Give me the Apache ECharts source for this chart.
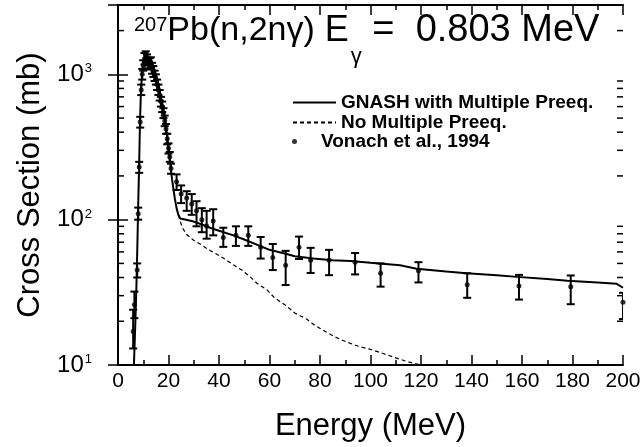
<!DOCTYPE html>
<html><head><meta charset="utf-8">
<script src="https://cdn.jsdelivr.net/npm/echarts@6/dist/echarts.min.js"></script>
<style>html,body{margin:0;padding:0;background:#fff}#c{width:644px;height:447px}</style>
</head><body><div id="c"></div>
<script>
// ---- data ----
const xMin = 0, xMax = 200, yMin = 10, yMax = 3000;
const xTickLabels = [0,20,40,60,80,100,120,140,160,180,200];
const yMinorTicks = [20,30,40,50,60,70,80,90,200,300,400,500,600,700,800,900,2000];

const gnashX = [6.3,6.8,7.3,7.7,8.0,8.4,8.7,9.1,9.5,10.0,10.6,11.3,12.0,12.6,13.3,14.3,15.3,16.2,17.0,17.8,18.6,19.3,19.9,20.4,20.9,21.4,21.9,22.5,23.2,23.9,24.6,27,30,33,36.4,40,45.7,50,56.2,60,66.8,70,77.4,85,92,100,111.7,118.3,130,138,150,158,170,178,190,197.5,200];
const gnashY = [10,18,35,70,126,250,465,780,980,1170,1300,1350,1340,1300,1240,1100,960,830,700,590,490,400,320,270,224,190,165,140,120,108,102,100,97,93,88,84,78,73,66,62,58,56,54,52.5,52,50.5,48.5,46,44,42.8,41.5,40.4,39,38,37,36.2,34];

const noMultX = [23.2,24.6,25.5,27.2,30,32.5,36,39,42,45.6,49,52.3,55,58.9,62,66.8,70,74.7,78,82.6,86,90.5,95,100,105,110,115,120];
const noMultY = [120,98,88,79,72,68,62,58,54,49,45,40.5,36.5,33,29,25.4,22.8,20.7,18.7,16.8,15.6,14.4,13.5,12.8,12.0,11.2,10.5,10];

const vonX  = [6.0,6.5,7.6,8.0,8.4,8.8,9.2,9.6,10.0,10.5,11.0,11.5,12.0,12.5,13.0,13.5,14.0,14.5,15.0,15.5,16.0,16.5,17.0,17.5,18.0,18.5,19.0,19.5,20.0,20.5,21.0,23.2,25.0,27.2,29.2,31.1,33.2,35.1,37.7,41.7,46.7,51.6,56.5,61.3,66.4,71.7,76.3,83.6,93.9,104,119,138.3,158.8,179.3,200];
const vonY  = [17,26,45,110,230,470,780,1000,1150,1280,1320,1260,1200,1180,1200,1100,1050,980,920,850,780,720,650,600,540,480,420,360,310,270,225,182,150,141,128,115,100,90.6,98,75.5,78,78,64.6,55,48.6,64.6,52.6,52.6,51,42.8,44.6,35.6,35,34.5,27];
const vonLo = [13,21,40,100,210,430,720,920,1060,1170,1210,1150,1100,1080,1100,1010,960,900,850,780,720,660,600,550,500,440,390,330,285,250,207,160,130,115,108,90,82,74,78,65,66,66,54,45,35.5,53.6,43,41.5,42,34.6,37,29,28.2,26.2,20.7];
const vonHi = [24,32,50,121,250,510,850,1090,1250,1400,1440,1370,1300,1290,1310,1200,1140,1060,1000,920,850,780,700,650,585,520,455,390,335,292,243,205,172,157,150,134,120,115,118,88,90,90,76,68,61,76.5,64,62,59,50,51,42.8,41.7,41.3,31.4];

const titleSup = '207';
const titleMain1 = 'Pb(n,2nγ)';
const titleE = 'E';
const titleSub = 'γ';
const titleMain2 = ' =  0.803 MeV';
const xName = 'Energy (MeV)';
const yName = 'Cross Section (mb)';
const sGnash = 'GNASH with Multiple Preeq.';
const sNoMult = 'No Multiple Preeq.';
const sVon = 'Vonach et al., 1994';

// ---- chart ----
const FONT = 'Liberation Sans, Arial, sans-serif';
const chart = echarts.init(document.getElementById('c'), null, {renderer: 'canvas'});
const zip = (a, b) => a.map((v, i) => [v, b[i]]);
const T = (extra) => Object.assign({fontFamily: FONT, fontWeight: 'normal', color: '#000', verticalAlign: 'top'}, extra);

const option = {
  animation: false,
  backgroundColor: '#fff',
  grid: {left: 118, right: 21, top: 5, bottom: 77, containLabel: false},
  title: {
    text: '{sup|' + titleSup + '}{m1|' + titleMain1 + '}{e|' + titleE + '}{sub|' + titleSub + '}{m2|' + titleMain2 + '}',
    left: 134, top: 13, padding: 0,
    textStyle: {
      fontWeight: 'normal',
      rich: {
        m1: T({fontSize: 34, lineHeight: 44, padding: [1, 0, 0, 0]}),
        m2: T({fontSize: 38, lineHeight: 44, padding: [-1, 0, 0, 0]}),
        e: T({fontSize: 36, lineHeight: 44, padding: [0, 0, 0, 10]}),
        sup: T({fontSize: 20, lineHeight: 22, padding: [2, 0, 0, 0]}),
        sub: T({fontSize: 22, lineHeight: 24, padding: [33, 0, 0, 2]})
      }
    }
  },
  legend: [{
    data: [sGnash, sNoMult],
    orient: 'vertical', left: 292, top: 93, padding: 0, itemGap: 1,
    itemWidth: 43, itemHeight: 16,
    itemStyle: {opacity: 0},
    textStyle: {fontFamily: FONT, fontSize: 19, fontWeight: 'bold', color: '#000'}
  }, {
    data: [sVon],
    orient: 'vertical', left: 292, top: 132, padding: 0,
    itemWidth: 43, itemHeight: 5,
    textStyle: {fontFamily: FONT, fontSize: 19, fontWeight: 'bold', color: '#000'}
  }],
  xAxis: [{
    type: 'value', min: xMin, max: xMax, interval: 20,
    name: xName, nameLocation: 'middle', nameGap: 46,
    nameTextStyle: {fontFamily: FONT, fontSize: 31, color: '#000'},
    axisLine: {show: true, lineStyle: {color: '#000', width: 2}},
    axisTick: {show: true, inside: true, length: 10, lineStyle: {color: '#000', width: 1.5}},
    minorTick: {show: true, splitNumber: 2, length: 5, lineStyle: {color: '#000', width: 1.5}},
    axisLabel: {fontFamily: FONT, fontSize: 21, color: '#000', margin: 6,
      formatter: v => xTickLabels.indexOf(v) >= 0 ? String(v) : ''},
    splitLine: {show: false}
  }, {
    type: 'value', min: xMin, max: xMax, interval: 20, position: 'top',
    axisLine: {show: true, lineStyle: {color: '#000', width: 2}},
    axisTick: {show: true, inside: true, length: 10, lineStyle: {color: '#000', width: 1.5}},
    minorTick: {show: true, splitNumber: 2, length: 5, lineStyle: {color: '#000', width: 1.5}},
    axisLabel: {show: false}, splitLine: {show: false}
  }],
  yAxis: [{
    type: 'log', logBase: 10, min: yMin, max: yMax,
    name: yName, nameLocation: 'middle', nameGap: 70, nameRotate: 90,
    nameTextStyle: {fontFamily: FONT, fontSize: 31, color: '#000'},
    axisLine: {show: true, lineStyle: {color: '#000', width: 2}},
    axisTick: {show: true, inside: true, length: 10, lineStyle: {color: '#000', width: 1.5}},
    axisLabel: {fontFamily: FONT, fontSize: 24, color: '#000', margin: 26, showMaxLabel: false,
      formatter: v => {
        const e = Math.round(Math.log10(v));
        if (Math.abs(Math.pow(10, e) - v) > 1e-6 * v) return '';
        return '10{s|' + e + '}';
      },
      rich: {s: {fontFamily: FONT, fontSize: 13, verticalAlign: 'top', lineHeight: 10, padding: [0,0,10,1]}}
    },
    splitLine: {show: false}
  }, {
    type: 'log', logBase: 10, min: yMin, max: yMax, position: 'right',
    axisLine: {show: true, lineStyle: {color: '#000', width: 2}},
    axisTick: {show: true, inside: true, length: 10, lineStyle: {color: '#000', width: 1.5}},
    axisLabel: {show: false}, splitLine: {show: false}
  }],
  series: [
    {
      name: 'minorY', type: 'custom', silent: true,
      data: yMinorTicks.map(v => [v]),
      renderItem: (params, api) => {
        const v = api.value(0);
        const pL = api.coord([xMin, v]);
        const pR = api.coord([xMax, v]);
        return {type: 'group', children: [
          {type: 'line', shape: {x1: pL[0], y1: pL[1], x2: pL[0] + 6, y2: pL[1]}, style: {stroke: '#000', lineWidth: 1.5}},
          {type: 'line', shape: {x1: pR[0] - 6, y1: pR[1], x2: pR[0], y2: pR[1]}, style: {stroke: '#000', lineWidth: 1.5}}
        ]};
      },
      encode: {y: 0}
    },
    {
      name: sNoMult, type: 'line', data: zip(noMultX, noMultY),
      showSymbol: false, symbol: 'none', color: '#000',
      lineStyle: {color: '#000', width: 1.2, type: [4, 3]}
    },
    {
      name: sGnash, type: 'line', data: zip(gnashX, gnashY),
      showSymbol: false, symbol: 'none', color: '#000',
      lineStyle: {color: '#000', width: 2}
    },
    {
      name: 'errors', type: 'custom', clip: true,
      data: vonX.map((x, i) => [x, vonLo[i], vonHi[i]]),
      renderItem: (params, api) => {
        const x = api.value(0);
        const lo = api.coord([x, api.value(1)]);
        const hi = api.coord([x, api.value(2)]);
        const w = 4;
        return {type: 'group', children: [
          {type: 'line', shape: {x1: lo[0], y1: lo[1], x2: hi[0], y2: hi[1]}, style: {stroke: '#000', lineWidth: 2}},
          {type: 'line', shape: {x1: lo[0] - w, y1: lo[1], x2: lo[0] + w, y2: lo[1]}, style: {stroke: '#000', lineWidth: 2}},
          {type: 'line', shape: {x1: hi[0] - w, y1: hi[1], x2: hi[0] + w, y2: hi[1]}, style: {stroke: '#000', lineWidth: 2}}
        ]};
      },
      encode: {x: 0, y: [1, 2]}
    },
    {
      name: sVon, type: 'scatter', data: zip(vonX, vonY),
      symbol: 'circle', symbolSize: 5, itemStyle: {color: '#000'}
    }
  ]
};
chart.setOption(option);
</script>
</body></html>
